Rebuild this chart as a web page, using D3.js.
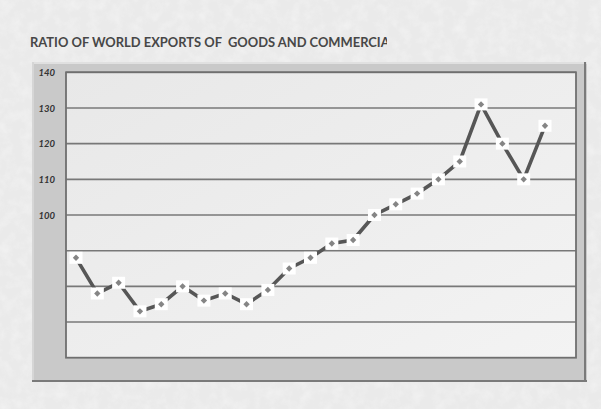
<!DOCTYPE html>
<html>
<head>
<meta charset="utf-8">
<script src="https://cdn.jsdelivr.net/npm/d3@7"></script>
<style>
  html, body { margin: 0; padding: 0; background: #ededed; }
  svg { display: block; }
</style>
</head>
<body>
<svg id="chart" width="601" height="409"></svg>
<script>
// Ratio series, one value per period
const periods = d3.range(1, 24);
const ratioValues = [88, 78, 81, 73, 75, 80, 76, 78, 75, 79, 85, 88, 92, 93, 100, 103, 106, 110, 115, 131, 120, 110, 125];
const gridValues = [140, 130, 120, 110, 100, 90, 80, 70];
const tickLabels = ["140", "130", "120", "110", "100"];
const titleText = "RATIO OF WORLD EXPORTS OF  GOODS AND COMMERCIAL SERVICES";
const titleVisible = "RATIO OF WORLD EXPORTS OF  GOODS AND COMMERCIA";

const W = 601, H = 409;
const svg = d3.select("#chart");
const defs = svg.append("defs");

// Soft paper-like background texture
const tex = defs.append("filter").attr("id", "paper").attr("x", 0).attr("y", 0).attr("width", "100%").attr("height", "100%");
tex.append("feTurbulence").attr("type", "fractalNoise").attr("baseFrequency", 0.09).attr("numOctaves", 3).attr("seed", 4).attr("result", "n");
tex.append("feColorMatrix").attr("in", "n").attr("type", "matrix")
  .attr("values", "0 0 0 0 1  0 0 0 0 1  0 0 0 0 1  0 0 0 -1.8 1.1");

svg.append("rect").attr("width", W).attr("height", H).attr("fill", "#eaeaea");
svg.append("rect").attr("width", W).attr("height", H).attr("filter", "url(#paper)").attr("opacity", 0.35);

// Plot-area shading
const grad = defs.append("linearGradient").attr("id", "plotFill")
  .attr("x1", "0%").attr("y1", "0%").attr("x2", "100%").attr("y2", "100%");
grad.append("stop").attr("offset", "0%").attr("stop-color", "#e8e8e8");
grad.append("stop").attr("offset", "100%").attr("stop-color", "#f3f3f3");

// Title, cut off at the edge of its box
defs.append("clipPath").attr("id", "titleClip")
  .append("rect").attr("x", 0).attr("y", 20).attr("width", 387).attr("height", 40);
const title = svg.append("text")
  .attr("clip-path", "url(#titleClip)")
  .attr("x", 30).attr("y", 46.8)
  .attr("font-family", "Lato, 'Open Sans', sans-serif")
  .attr("font-weight", "bold")
  .attr("font-size", 12)
  .attr("fill", "#474747")
  .style("white-space", "pre")
  .text(titleText);
// Size the font so the visible part runs just past the box edge
{
  const node = title.node();
  const w = node.getSubStringLength(0, titleVisible.length);
  const target = 390 - 30;
  title.attr("font-size", (12 * target / w).toFixed(2));
}

// Outer bevelled panel
const panel = { x: 32, y: 62, w: 555, h: 320 };
svg.append("rect").attr("x", panel.x).attr("y", panel.y).attr("width", panel.w).attr("height", panel.h).attr("fill", "#c9c9c9");
svg.append("line").attr("x1", panel.x).attr("x2", panel.x + panel.w).attr("y1", panel.y + 1).attr("y2", panel.y + 1).attr("stroke", "#e0e0e0").attr("stroke-width", 2);
svg.append("line").attr("x1", panel.x + 1).attr("x2", panel.x + 1).attr("y1", panel.y).attr("y2", panel.y + panel.h).attr("stroke", "#d6d6d6").attr("stroke-width", 2);
svg.append("line").attr("x1", panel.x).attr("x2", panel.x + panel.w).attr("y1", panel.y + panel.h - 1).attr("y2", panel.y + panel.h - 1).attr("stroke", "#7a7a7a").attr("stroke-width", 2);
svg.append("line").attr("x1", panel.x + panel.w - 2).attr("x2", panel.x + panel.w - 2).attr("y1", panel.y).attr("y2", panel.y + panel.h).attr("stroke", "#7a7a7a").attr("stroke-width", 2);

// Plot area
const plot = { left: 66, right: 576, top: 72.3, bottom: 357.7 };
const y = d3.scaleLinear().domain([60, 140]).range([plot.bottom, plot.top]);
const x = d3.scaleLinear().domain([1, 23]).range([76, 545]);

svg.append("rect").attr("x", plot.left).attr("y", plot.top).attr("width", plot.right - plot.left).attr("height", plot.bottom - plot.top)
  .attr("fill", "url(#plotFill)");

// Horizontal gridlines
svg.append("g").selectAll("line").data(gridValues).join("line")
  .attr("x1", plot.left).attr("x2", plot.right)
  .attr("y1", d => y(d)).attr("y2", d => y(d))
  .attr("stroke", "#787878").attr("stroke-width", 1.6);

// Plot border
svg.append("rect").attr("x", plot.left).attr("y", plot.top).attr("width", plot.right - plot.left).attr("height", plot.bottom - plot.top)
  .attr("fill", "none").attr("stroke", "#6f6f6f").attr("stroke-width", 1.8);

// Y tick labels
const yAxis = d3.axisLeft(y).tickValues(tickLabels.map(Number)).tickSize(0).tickPadding(0).tickFormat(d => String(d));
const axG = svg.append("g").attr("transform", "translate(55,0)").call(yAxis);
axG.select(".domain").remove();
axG.selectAll("text")
  .attr("font-family", "Lato, 'Open Sans', sans-serif")
  .attr("font-style", "italic")
  .attr("font-weight", "bold")
  .attr("font-size", 9.5)
  .attr("fill", "#333");

// Series line
const line = d3.line().x((d, i) => x(periods[i])).y(d => y(d));
svg.append("path").datum(ratioValues)
  .attr("d", line)
  .attr("fill", "none")
  .attr("stroke", "#565656")
  .attr("stroke-width", 3.6)
  .attr("stroke-linejoin", "miter");

// Markers: white square with a grey diamond
const mk = svg.append("g").selectAll("g").data(ratioValues).join("g")
  .attr("transform", (d, i) => `translate(${x(periods[i])},${y(d)})`);
mk.append("rect").attr("x", -6.5).attr("y", -6).attr("width", 13).attr("height", 12).attr("fill", "#fff");
mk.append("path").attr("d", d3.symbol(d3.symbolDiamond2, 26)).attr("fill", "#858585");
</script>
</body>
</html>
